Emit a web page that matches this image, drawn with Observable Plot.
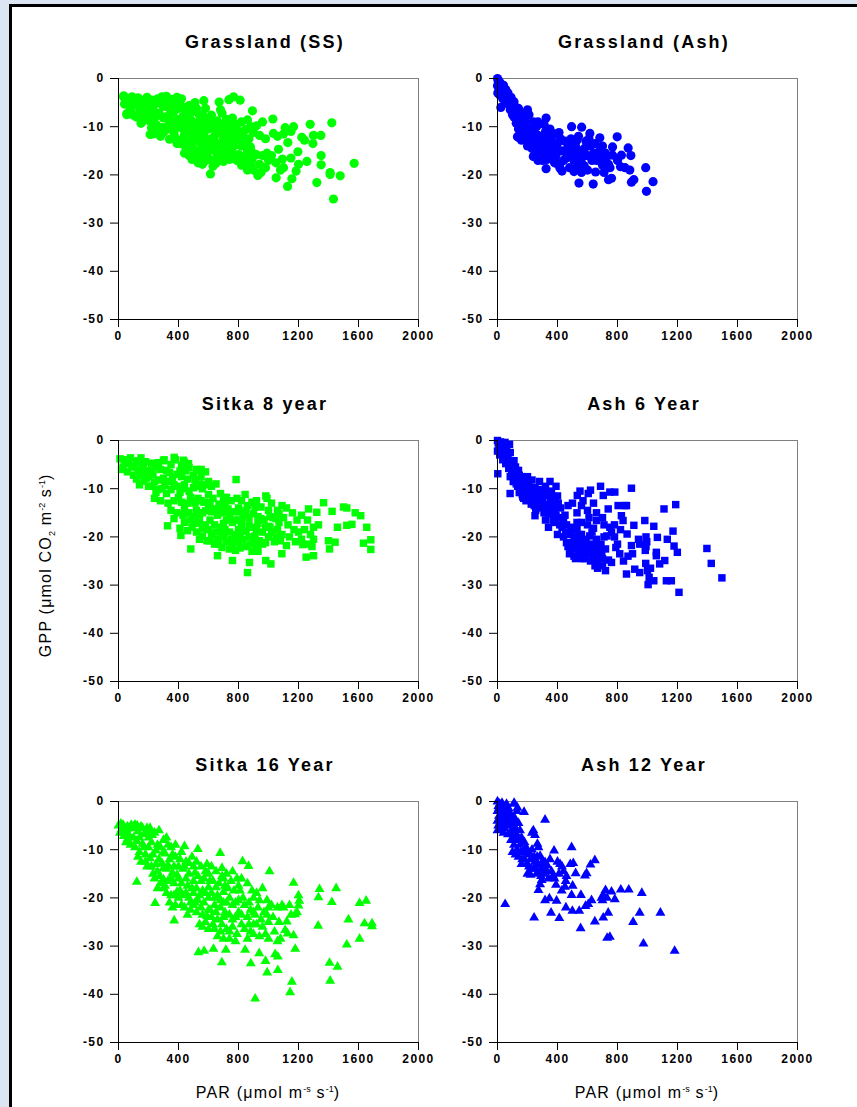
<!DOCTYPE html>
<html><head><meta charset="utf-8">
<script src="https://cdn.jsdelivr.net/npm/d3@7"></script>
<script src="https://cdn.jsdelivr.net/npm/@observablehq/plot@0.6"></script>
<style>
body{margin:0;background:#fff;}
#page{position:relative;width:857px;height:1107px;overflow:hidden;background:#fff;font-family:Arial,"Liberation Sans",sans-serif;}
.bg{position:absolute;background:#dce6f2;}
.bd{position:absolute;background:#000;}
.title{position:absolute;width:300px;text-align:center;font-weight:bold;font-size:18px;line-height:18px;letter-spacing:2.2px;color:#000;white-space:nowrap;}
.axlab{position:absolute;width:300px;text-align:center;font-size:16px;line-height:16px;letter-spacing:1.2px;color:#000;white-space:nowrap;}
.axlab sup,.axlab sub{font-size:9px;letter-spacing:0;}
.panel{position:absolute;}
</style></head><body><div id="page"></div><script>
// ---- data (PAR, GPP) ----
const titles = ["Grassland (SS)", "Grassland (Ash)", "Sitka 8 year", "Ash 6 Year", "Sitka 16 Year", "Ash 12 Year"];
const xTicks = [0, 400, 800, 1200, 1600, 2000];
const yTicks = [0, -10, -20, -30, -40, -50];

const grassSS = [[35,-3.6],[60,-4.2],[90,-3.8],[40,-5.3],[75,-5.8],[55,-7.3],[100,-7.6],[110,-4.4],
[130,-4.0],[160,-4.6],[190,-3.9],[140,-6.2],[175,-6.8],[120,-8.0],[160,-8.9],[200,-5.6],[195,-7.7],[150,-9.3],
[220,-4.5],[260,-4.2],[290,-3.8],[230,-6.5],[270,-7.2],[210,-8.8],[250,-9.5],[290,-10.2],[230,-11.5],[280,-12.0],[300,-5.8],[300,-8.2],
[320,-3.7],[360,-4.3],[390,-3.9],[330,-5.9],[370,-6.8],[310,-8.0],[350,-9.1],[390,-8.5],[320,-10.6],[370,-11.2],[340,-12.6],[390,-13.5],[400,-10.0],[400,-6.2],
[420,-4.2],[440,-6.0],[470,-5.6],[430,-7.9],[480,-8.5],[420,-10.2],[460,-11.0],[500,-10.0],[430,-12.5],[480,-13.1],[450,-14.5],[500,-15.2],[470,-16.0],[500,-6.8],
[520,-6.2],[560,-7.5],[540,-9.0],[590,-8.3],[520,-11.0],[570,-11.8],[540,-13.2],[590,-12.8],[520,-15.0],[560,-15.8],[600,-14.8],[530,-17.5],[580,-17.0],[600,-10.5],
[620,-7.6],[660,-8.8],[690,-7.2],[630,-10.3],[670,-11.0],[700,-9.5],[620,-12.5],[660,-13.5],[700,-12.3],[640,-15.0],[690,-15.6],[610,-16.8],[650,-17.6],[700,-17.2],[680,-6.5],
[720,-8.5],[760,-8.2],[790,-9.5],[730,-10.8],[770,-11.5],[740,-13.0],[780,-13.8],[720,-14.6],[760,-15.5],[800,-15.8],[740,-16.8],[790,-17.0],
[820,-9.0],[860,-8.6],[880,-10.0],[830,-12.0],[870,-12.5],[900,-11.2],[820,-14.0],[860,-15.0],[900,-15.5],[840,-17.3],[880,-18.0],[820,-18.0],
[920,-9.8],[960,-9.0],[940,-11.8],[980,-12.5],[920,-15.8],[960,-16.0],[990,-15.5],[940,-17.8],[980,-18.5],[1000,-17.0],[900,-19.0],[950,-19.5],
[1433,-25.0],[1571,-17.6],[1478,-20.2],[1411,-19.5],[1411,-19.9],[1322,-21.6],[1127,-22.4],[1156,-20.8],[1051,-20.6],[929,-20.1],[1422,-9.2],[1278,-9.5],[1300,-11.8],[1349,-11.8],[1296,-13.5],[1351,-16.0],[1351,-17.9],[1256,-17.2],[1184,-19.2],[1129,-13.3],[1167,-10.0],[1222,-12.2],[1111,-10.2],[1029,-8.4],[1033,-11.4],[1067,-14.7],[1093,-16.7],[1196,-15.2],[893,-6.7],[811,-4.5],[767,-3.8],[736,-4.4],[671,-4.9],[569,-4.6],[613,-19.8],[211,-11.6],[56,-7.5],[33,-3.8],
[1060,-12.0],[1100,-11.5],[1150,-11.0],[1240,-12.8],[1050,-17.5],[1100,-18.5],[1150,-16.5],[1200,-17.8],[1020,-16.0],[1080,-19.0],
[50,-4.6],[80,-6.5],[100,-5.2],[120,-5.2],[150,-7.5],[180,-5.2],[140,-4.8],[210,-5.0],[240,-5.3],[280,-5.2],[250,-7.8],[220,-10.2],[260,-11.0],[300,-11.2],[310,-4.8],[340,-7.5],[380,-5.4],[360,-10.0],[330,-9.8],[380,-12.3],[410,-5.5],[450,-7.2],[410,-8.8],[450,-9.5],[440,-11.6],[490,-11.8],[410,-13.5],[460,-13.6],[490,-14.2],[440,-15.5],[490,-16.8],[510,-5.0],[540,-7.6],[580,-6.2],[510,-9.2],[560,-10.2],[600,-9.3],[550,-11.5],[510,-12.6],[560,-14.3],[600,-13.2],[540,-16.2],[590,-16.0],[560,-17.8],[630,-8.8],[650,-10.0],[690,-10.5],[640,-12.0],[680,-13.8],[620,-14.0],[660,-16.2],[700,-14.5],[630,-18.2],[710,-11.2],[750,-9.5],[780,-10.8],[750,-12.2],[710,-13.5],[760,-14.2],[730,-15.5],[710,-16.2],[770,-16.6],[800,-12.5],[810,-11.0],[850,-10.6],[840,-13.3],[880,-14.2],[810,-16.0],[850,-16.4],[890,-16.8],[860,-19.0]];

const grassAsh = [[0,0],[5,-0.6],[0,-1.5],[10,-2.4],[2,-3.0],[20,-1.0],[30,-2.0],[15,-3.4],[40,-1.4],[45,-3.0],[55,-2.3],[60,-3.8],[35,-4.2],[70,-3.0],[80,-4.6],[65,-5.2],[90,-3.9],[100,-5.5],[85,-6.5],[110,-4.8],[120,-6.8],[100,-7.5],[130,-7.5],[140,-6.2],[150,-8.6],[125,-9.3],[160,-9.6],[140,-10.5],[170,-10.8],[190,-9.0],[200,-6.5],[210,-7.5],[180,-8.0],[180,-12.0],[200,-11.5],[220,-10.5],[230,-12.5],[240,-9.0],[260,-10.0],[250,-13.5],[270,-11.8],[230,-14.5],[280,-14.0],[300,-12.0],[310,-9.5],[320,-11.0],[290,-15.5],[330,-13.5],[350,-10.5],[360,-12.8],[340,-15.0],[370,-14.5],[300,-17.0],[330,-16.8],[380,-11.5],[400,-13.5],[390,-16.0],[420,-12.5],[430,-15.0],[450,-13.0],[440,-17.0],[470,-14.2],[460,-16.5],[490,-12.5],[500,-15.5],[520,-14.0],[480,-18.5],[510,-17.0],[540,-12.0],[550,-15.0],[560,-17.5],[580,-14.5],[600,-16.0],[610,-12.5],[620,-14.0],[640,-15.5],[650,-13.5],[660,-17.0],[680,-15.0],[690,-16.5],[700,-18.0],[720,-17.5],[710,-19.5],[730,-16.2],[750,-18.5],[220,-13.5],[260,-15.8],
[993,-23.4],[1037,-21.4],[988,-18.5],[893,-21.5],[909,-21.0],[889,-16.0],[871,-14.4],[882,-19.0],[798,-12.1],[767,-14.2],[767,-15.9],[760,-20.7],[826,-15.9],[820,-18.3],[638,-21.9],[543,-21.7],[654,-19.4],[510,-19.3],[527,-18.6],[578,-18.1],[324,-18.7],[494,-10.0],[561,-10.1],[616,-11.4],[682,-12.3],[324,-8.2],[417,-18.6],[406,-17.9],[239,-16.2],[22,-6.0],[133,-12.1],[145,-12.3],
[850,-18.5],[800,-17.0],[740,-21.0],[560,-19.5],[600,-19.0],[430,-19.2],[380,-17.5],[270,-17.0],[200,-14.0],[160,-12.8],
[10,-0.5],[25,-2.8],[50,-4.5],[75,-4.0],[95,-6.0],[115,-5.8],[110,-8.0],[135,-8.3],[155,-7.2],[165,-11.8],[190,-10.5],[210,-12.5],[240,-11.2],[255,-14.8],[270,-9.0],[285,-12.8],[305,-14.2],[315,-16.2],[345,-12.0],[355,-14.0],[365,-16.5],[400,-15.0],[410,-11.2],[420,-17.5],[450,-15.2],[475,-16.0],[490,-14.0],[530,-16.0],[530,-12.8],[570,-16.2],[590,-13.0],[630,-17.0],[670,-16.0],[700,-14.0],[720,-15.5],[740,-17.8]];

const sitka8 = [[10,-3.8],[30,-5.5],[50,-4.2],[60,-6.5],[80,-3.6],[90,-5.4],[100,-7.2],[20,-6.0],
[120,-4.5],[150,-3.6],[180,-4.4],[130,-6.3],[160,-5.8],[190,-6.5],[120,-8.0],[170,-8.4],[200,-9.5],[140,-9.2],[200,-7.5],
[220,-4.7],[250,-5.5],[280,-6.0],[230,-7.0],[270,-8.2],[300,-7.8],[220,-9.5],[250,-10.8],[290,-10.0],[240,-12.0],[280,-12.5],[300,-4.2],
[320,-6.2],[350,-5.0],[380,-4.0],[330,-8.5],[360,-7.8],[390,-7.0],[320,-11.0],[350,-10.2],[390,-9.5],[330,-13.0],[370,-12.5],[400,-11.8],[350,-14.5],[390,-15.0],[370,-16.2],
[420,-5.2],[440,-4.5],[470,-5.6],[420,-7.5],[460,-8.0],[500,-7.2],[430,-10.0],[470,-10.5],[500,-9.8],[420,-12.8],[460,-13.0],[500,-12.5],[430,-15.5],[470,-15.0],[500,-15.8],[440,-17.0],[490,-18.0],[410,-18.2],
[520,-6.0],[550,-7.5],[580,-6.5],[520,-9.5],[560,-10.0],[600,-8.5],[530,-12.0],[570,-12.8],[600,-11.2],[520,-14.5],[560,-15.0],[600,-14.2],[540,-17.0],[580,-17.5],[520,-19.0],[560,-19.8],[600,-18.5],[590,-20.8],
[620,-9.5],[650,-9.0],[680,-11.0],[630,-12.0],[670,-13.2],[700,-12.5],[620,-14.8],[660,-15.5],[700,-15.0],[640,-17.5],[680,-18.0],[700,-17.2],[620,-19.5],[660,-20.5],[700,-20.0],[640,-21.5],[690,-22.2],
[720,-11.8],[750,-12.5],[790,-12.0],[730,-14.2],[770,-14.8],[800,-14.0],[720,-16.5],[760,-17.0],[800,-16.5],[740,-19.0],[780,-19.5],[720,-21.0],[760,-21.8],[800,-21.0],[780,-22.8],[800,-18.5],
[820,-12.5],[860,-13.5],[890,-12.8],[830,-15.5],[870,-16.0],[900,-15.2],[820,-18.0],[850,-18.8],[890,-18.0],[830,-20.5],[870,-20.0],[900,-21.0],[850,-22.0],[890,-23.0],
[920,-12.5],[950,-13.8],[990,-12.0],[930,-15.8],[970,-16.5],[1000,-14.5],[920,-18.5],[960,-19.0],[1000,-17.8],[940,-20.8],[980,-21.2],[1000,-20.0],[930,-23.0],
[1020,-13.0],[1060,-14.5],[1090,-13.5],[1030,-16.0],[1070,-17.0],[1100,-16.0],[1020,-19.0],[1060,-18.5],[1090,-19.5],[1040,-21.0],[1080,-20.8],
[1120,-14.0],[1160,-15.0],[1190,-16.5],[1130,-17.5],[1170,-18.5],[1200,-19.0],[1140,-20.0],[1180,-21.0],[1120,-21.8],
[1220,-15.5],[1260,-16.5],[1240,-18.5],[1280,-19.5],[1220,-20.5],[1260,-21.5],[1300,-20.5],[1290,-22.0],
[1682,-22.6],[1682,-20.6],[1633,-21.3],[1655,-18.0],[1615,-15.6],[1578,-15.0],[1522,-14.0],[1500,-13.8],[1556,-17.4],[1522,-17.6],[1460,-18.0],[1400,-20.8],[1407,-22.5],[1444,-21.1],[1367,-12.9],[1424,-14.7],[1322,-14.9],[1300,-18.0],[1333,-17.5],[1267,-14.2],[1300,-23.9],[1251,-24.2],[1229,-21.6],[1089,-23.5],[1016,-25.6],[982,-24.9],[860,-27.4],[873,-25.3],[760,-24.9],[660,-23.9],[482,-22.5],[416,-19.7],[327,-17.7],[784,-8.1],[844,-11.2],[982,-11.5],[551,-6.0],[433,-4.1],[467,-4.8],[304,-4.0],[371,-3.5],
[40,-4.0],[70,-4.8],[110,-5.5],[130,-4.2],[165,-4.8],[150,-7.2],[185,-7.8],[210,-6.2],[240,-8.6],[265,-4.6],[260,-10.2],[310,-9.3],[340,-6.6],[370,-9.2],[410,-6.3],[450,-6.3],[440,-9.2],[480,-11.8],[410,-10.8],[440,-14.2],[480,-16.5],[460,-18.7],[510,-8.2],[540,-9.0],[580,-9.2],[550,-12.5],[510,-13.0],[580,-14.6],[540,-15.5],[510,-17.2],[560,-18.2],[540,-20.5],[610,-12.8],[640,-14.2],[680,-14.6],[610,-16.5],[650,-19.0],[690,-19.2],[610,-20.8],[670,-21.5],[710,-13.5],[740,-15.5],[780,-16.5],[710,-18.5],[750,-20.5],[790,-20.2],[740,-22.5],[810,-14.8],[850,-14.5],[820,-16.8],[870,-17.5],[810,-19.5],[880,-21.5],[810,-22.3],[910,-13.8],[950,-16.2],[930,-17.2],[980,-18.0],[910,-19.8],[960,-21.5],[920,-22.0],[1010,-15.8],[1050,-16.2],[1010,-18.0],[1050,-20.0],[1070,-15.2]];

const ash6 = [[0,0],[10,-1.2],[0,-2.2],[20,-0.3],[30,-1.8],[15,-3.0],[50,-0.4],[45,-2.6],[60,-1.5],[35,-4.0],[70,-3.2],[80,-0.8],[55,-4.8],[90,-4.5],[75,-5.8],[100,-6.0],[110,-4.2],[95,-7.2],[120,-5.5],[130,-7.0],[115,-8.5],[140,-6.2],[150,-8.0],[135,-9.5],[160,-7.5],[170,-9.2],[155,-10.5],[180,-8.0],[190,-10.0],[175,-12.0],[200,-7.5],[210,-9.0],[200,-11.5],[220,-10.5],[230,-8.2],[240,-12.0],[225,-13.2],[250,-9.8],[260,-11.0],[270,-13.0],[255,-14.5],[280,-8.5],[290,-10.2],[300,-12.0],[285,-14.0],[310,-15.0],[320,-9.5],[330,-11.5],[340,-13.5],[320,-16.5],[350,-8.5],[360,-10.8],[370,-12.8],[350,-15.2],[380,-14.5],[340,-18.0],[390,-9.5],[400,-11.5],[395,-13.5],[380,-17.0],[410,-16.0],[420,-14.0],[400,-19.5],[430,-18.0],[450,-15.5],[440,-20.0],[460,-17.5],[470,-13.5],
[480,-19.5],[500,-18.0],[470,-22.0],[490,-21.2],[510,-20.0],[520,-22.5],[480,-23.5],[530,-18.5],[540,-21.0],[550,-23.5],[520,-24.5],[560,-19.5],[570,-22.0],[580,-24.5],[590,-20.5],[600,-23.0],[610,-21.5],[620,-25.0],[630,-19.0],[640,-22.5],[650,-24.0],[660,-20.5],[670,-23.0],[690,-21.5],[700,-24.5],[720,-22.5],[710,-20.0],[740,-24.8],[730,-19.8],[560,-17.0],[600,-17.5],[640,-18.2],
[532,-11.4],[620,-10.3],[605,-11.0],[687,-9.5],[705,-11.4],[749,-10.7],[782,-10.7],[804,-13.5],[849,-13.5],[860,-13.5],[826,-15.6],[837,-16.6],[738,-14.2],[660,-16.6],[749,-18.0],[789,-22.2],[815,-23.5],[760,-25.3],[667,-26.5],[864,-19.4],[893,-21.8],[948,-21.5],[909,-17.6],[893,-9.9],[860,-27.7],[915,-26.7],[948,-27.4],[988,-25.5],[982,-16.6],[990,-20.0],[995,-21.0],[990,-22.0],[985,-22.8],[1042,-17.8],[1066,-20.1],[1059,-23.2],[1059,-23.9],[1115,-24.9],[1081,-25.6],[1042,-29.1],[1004,-29.9],[1011,-28.4],[1126,-29.1],[1159,-29.1],[1110,-14.2],[1132,-20.5],[1170,-18.8],[1188,-13.3],[1177,-21.9],[1199,-23.2],[1210,-31.5],[1396,-22.4],[1425,-25.5],[1496,-28.5],[2,-6.9],[84,-11.0],[168,-11.7],[250,-15.6],
[780,-20.0],[800,-21.5],[560,-13.5],[600,-14.5],[640,-13.0],[660,-15.0],[700,-16.0],[710,-17.5],[780,-17.5],[820,-18.5],[760,-19.0],[650,-26.0],[700,-26.0],[720,-27.0],[840,-25.0],[870,-24.0],[900,-23.5],[940,-20.5],[1000,-27.0],[1020,-26.5],[550,-10.5],[570,-12.5],[500,-13.0],[530,-15.0],
[5,-0.5],[25,-1.0],[40,-1.0],[25,-2.5],[50,-3.5],[65,-2.5],[85,-2.5],[80,-5.0],[105,-4.8],[85,-7.5],[125,-6.5],[105,-8.5],[145,-7.2],[125,-9.0],[165,-8.8],[145,-10.8],[185,-9.2],[165,-11.2],[205,-10.2],[190,-12.5],[215,-11.8],[235,-10.0],[245,-13.5],[270,-10.2],[275,-12.0],[295,-13.5],[305,-11.0],[315,-13.2],[335,-15.0],[345,-10.5],[355,-12.0],[365,-14.0],[370,-16.5],[385,-12.0],[390,-15.5],[405,-13.0],[415,-17.5],[440,-16.5],[455,-19.0],[460,-21.2],[490,-18.8],[500,-22.5],[510,-24.0],[530,-21.5],[545,-19.5],[555,-22.8],[565,-24.5],[575,-20.8],[590,-23.5],[605,-22.2],[615,-19.8],[625,-23.5],[640,-24.8],[655,-21.5],[665,-25.0],[680,-22.2],[695,-23.5],[530,-17.0],[610,-16.0]];

const sitka16 = [[0,-5.0],[10,-6.5],[30,-4.8],[40,-6.2],[60,-5.2],[70,-7.0],[90,-5.6],[100,-7.5],[50,-8.5],[20,-5.8],[80,-9.0],
[110,-4.8],[130,-6.2],[150,-5.2],[170,-6.8],[190,-5.5],[120,-8.2],[160,-8.8],[200,-7.5],[140,-10.5],[180,-11.0],[200,-9.5],[150,-12.5],[190,-13.5],[130,-11.5],
[210,-5.5],[240,-6.5],[270,-6.0],[220,-8.5],[260,-9.0],[300,-8.0],[230,-11.0],[270,-12.0],[300,-10.5],[220,-13.5],[260,-14.5],[300,-13.8],[240,-16.0],[280,-17.0],[300,-16.2],[260,-18.0],
[320,-7.5],[350,-9.5],[380,-9.0],[310,-10.8],[340,-12.0],[380,-11.5],[320,-14.0],[360,-14.8],[400,-13.5],[330,-16.5],[370,-17.0],[400,-16.0],[320,-19.0],[350,-19.5],[390,-18.8],[340,-21.0],[380,-21.5],[400,-20.0],
[420,-10.5],[450,-12.5],[490,-11.5],[430,-14.0],[470,-15.0],[500,-13.5],[420,-17.0],[460,-17.5],[500,-16.5],[430,-19.5],[470,-20.0],[500,-19.0],[440,-22.0],[480,-22.5],[500,-21.5],[460,-23.5],
[520,-12.5],[550,-13.5],[590,-13.0],[530,-15.5],[570,-16.0],[600,-15.0],[520,-18.0],[560,-18.5],[600,-17.8],[530,-20.5],[570,-21.0],[600,-20.0],[520,-23.0],[560,-23.5],[600,-22.5],[540,-25.5],[580,-25.0],[600,-26.5],
[620,-13.5],[650,-14.5],[690,-13.8],[630,-16.5],[670,-17.0],[700,-16.0],[620,-19.0],[660,-19.5],[700,-18.8],[640,-21.5],[680,-22.0],[700,-21.0],[620,-24.0],[660,-24.5],[700,-24.0],[640,-26.5],[680,-27.0],[700,-28.5],[660,-28.0],
[720,-15.0],[760,-14.5],[790,-16.0],[730,-18.0],[770,-18.5],[800,-17.5],[720,-21.0],[760,-21.5],[800,-20.5],[740,-23.5],[780,-24.0],[800,-23.0],[720,-26.5],[760,-26.0],[790,-27.5],[740,-28.5],[780,-29.0],
[820,-16.0],[860,-17.0],[890,-18.5],[830,-20.0],[870,-21.0],[900,-20.0],[820,-23.5],[860,-24.0],[900,-23.0],[840,-26.5],[880,-27.0],[900,-25.5],[860,-28.5],
[920,-19.0],[960,-18.0],[990,-20.5],[930,-22.0],[970,-23.0],[1000,-22.0],[920,-25.5],[960,-26.0],[1000,-25.0],[940,-28.0],[980,-27.5],[1000,-28.5],
[1020,-21.5],[1060,-22.0],[1090,-21.5],[1030,-24.0],[1070,-25.0],[1040,-27.0],[1080,-28.5],[1060,-29.0],[1100,-22.0],[1140,-21.5],[1150,-23.5],
[911,-40.9],[1144,-39.6],[1156,-37.4],[1411,-37.2],[1407,-33.5],[1460,-34.3],[1522,-29.7],[1607,-28.5],[1533,-24.5],[1690,-25.3],[1690,-25.9],[1640,-25.3],[1607,-21.1],[1651,-20.6],[1422,-20.9],[1451,-18.0],[1340,-18.2],[1333,-19.9],[1331,-25.8],[1167,-16.9],[1200,-19.5],[1205,-20.6],[1200,-21.6],[1178,-23.4],[1190,-23.0],[1167,-27.8],[1178,-30.6],[1122,-24.9],[1111,-26.7],[1127,-27.4],[1062,-32.2],[1044,-31.7],[1062,-35.0],[991,-35.5],[980,-33.1],[938,-31.5],[882,-33.6],[844,-30.8],[689,-33.4],[533,-31.3],[571,-31.0],[633,-30.6],[716,-30.8],[1007,-14.5],[827,-12.4],[867,-13.4],[678,-10.7],[529,-9.9],[440,-9.3],[122,-16.7],[371,-24.7],[244,-21.1],
[15,-4.6],[35,-7.2],[55,-5.8],[85,-4.9],[60,-7.8],[100,-5.2],[110,-9.5],[140,-7.5],[170,-9.5],[125,-5.0],[160,-5.5],[200,-6.2],[180,-12.5],[210,-11.8],[225,-7.0],[250,-10.2],[280,-9.5],[250,-13.0],[290,-12.8],[230,-15.0],[275,-15.5],[300,-18.0],[330,-9.0],[360,-11.0],[330,-13.2],[370,-13.5],[350,-16.0],[390,-15.2],[310,-17.5],[370,-19.5],[360,-22.0],[410,-12.0],[440,-13.5],[470,-12.8],[450,-16.0],[490,-18.0],[410,-18.5],[450,-19.0],[480,-21.0],[420,-21.5],[510,-14.8],[550,-16.5],[580,-14.5],[540,-19.5],[580,-19.0],[510,-21.0],[550,-22.0],[590,-23.8],[560,-26.0],[610,-16.5],[650,-17.8],[690,-15.5],[640,-20.0],[680,-20.5],[610,-22.5],[650,-23.0],[690,-25.5],[630,-25.5],[710,-17.5],[750,-16.5],[740,-20.0],[780,-21.0],[710,-23.0],[760,-24.5],[740,-27.0],[810,-18.5],[840,-21.5],[880,-22.5],[820,-25.5],[870,-25.5],[900,-27.5],[940,-20.5],[910,-23.5],[950,-24.5],[990,-23.5]];

const ash12 = [[0,0],[5,-1.0],[0,-2.0],[10,-3.0],[0,-4.0],[5,-5.0],[0,-6.0],[15,-0.5],[20,-1.8],[25,-3.2],[15,-4.5],[20,-5.8],[30,-0.3],[35,-2.2],[40,-4.0],[45,-1.2],[50,-3.0],[55,-5.0],[60,-0.5],[60,-2.0],[70,-3.5],[40,-6.5],[75,-1.5],[80,-5.0],[90,-2.8],[95,-4.2],[100,-6.0],[110,-0.5],[115,-3.5],[120,-5.5],[130,-2.0],[130,-7.0],[140,-4.5],[150,-6.0],[70,-6.8],
[90,-8.0],[110,-9.0],[100,-10.5],[120,-8.0],[130,-10.0],[140,-11.5],[150,-9.0],[160,-7.5],[170,-10.5],[180,-12.0],[160,-13.0],[190,-9.5],[200,-11.0],[210,-13.5],[200,-15.0],[220,-12.0],[230,-10.0],[240,-14.0],[250,-12.5],[260,-15.0],[270,-13.0],[280,-14.5],[230,-6.5],[250,-7.0],[180,-8.5],[220,-15.2],[290,-15.5],[300,-13.8],[310,-15.0],[330,-14.5],[340,-16.0],[300,-12.5],
[1181,-31.0],[1086,-23.1],[973,-29.5],[948,-23.1],[962,-19.0],[904,-25.0],[875,-18.3],[822,-18.3],[760,-18.7],[782,-20.3],[720,-18.4],[705,-19.4],[693,-20.0],[738,-23.1],[705,-24.1],[749,-28.1],[731,-28.3],[649,-24.9],[554,-26.3],[587,-21.7],[605,-21.3],[627,-20.5],[649,-12.2],[620,-13.1],[594,-14.9],[583,-15.4],[521,-14.9],[494,-9.5],[556,-19.4],[494,-19.4],[501,-17.5],[545,-22.7],[499,-22.7],[456,-22.0],[412,-24.2],[357,-23.1],[346,-20.1],[317,-20.5],[394,-20.6],[390,-17.3],[428,-18.5],[450,-17.7],[455,-16.5],[505,-12.8],[485,-13.0],[377,-10.2],[417,-13.0],[317,-3.8],[244,-24.1],[51,-21.3],[111,-0.3],[133,-1.3],[177,-2.2],[239,-6.0],[266,-8.8],[273,-9.5],[284,-11.3],[317,-12.6],[332,-13.3],[295,-16.3],[284,-17.2],[273,-18.4],[430,-13.5],[400,-12.5],[360,-14.5],[380,-16.0],[730,-20.0],[700,-20.5],
[350,-12.0],[370,-15.5],[410,-15.0],[440,-14.5],[460,-15.5],
[10,-1.5],[30,-1.5],[25,-4.5],[45,-5.5],[65,-4.5],[85,-4.0],[85,-6.5],[105,-4.5],[110,-7.5],[125,-4.2],[145,-8.0],[120,-11.0],[155,-10.5],[165,-12.0],[185,-10.5],[195,-13.0],[215,-10.8],[225,-14.0],[245,-11.5],[255,-13.8],[265,-11.5],[290,-13.0]];

const datasets = [grassSS, grassAsh, sitka8, ash6, sitka16, ash12];
const colors = ["#00ff00", "#0000ff", "#00ff00", "#0000ff", "#00ff00", "#0000ff"];
const symbols = ["circle", "circle", "square", "square", "triangle", "triangle"];

// ---- layout ----
const page = document.getElementById("page");
function box(cls, l, t, w, h){const d=document.createElement("div");d.className=cls;Object.assign(d.style,{left:l+"px",top:t+"px",width:w+"px",height:h+"px"});page.appendChild(d);}
box("bg", 0, 0, 857, 4);
box("bg", 0, 0, 9, 1107);
box("bd", 9, 4, 848, 3);
box("bd", 9, 4, 3, 1103);

const frameLeft = [118, 497];
const frameTop = [78, 440, 801];
const FW = 300, FH = 241;
const mL = 50, mR = 20, mT = 10, mB = 32;
const radii = {circle: 4.6, square: 4.2, triangle: 3.7};

datasets.forEach((data, i) => {
  const col = i % 2, row = Math.floor(i / 2);
  const fl = frameLeft[col], ft = frameTop[row];
  const chart = Plot.plot({
    width: FW + mL + mR, height: FH + mT + mB,
    marginLeft: mL, marginRight: mR, marginTop: mT, marginBottom: mB,
    x: {domain: [0, 2000]},
    y: {domain: [-50, 0]},
    style: {fontFamily: "Arial, 'Liberation Sans', sans-serif", fontSize: "12px", fontWeight: "bold", color: "#000", background: "transparent", overflow: "visible"},
    marks: [
      Plot.ruleY([0], {stroke: "#808080", strokeWidth: 1}),
      Plot.ruleX([2000], {stroke: "#808080", strokeWidth: 1}),
      Plot.dot(data, {x: d => d[0], y: d => d[1], fill: colors[i], stroke: "none", symbol: symbols[i], r: radii[symbols[i]]}),
      Plot.ruleX([0], {stroke: "#000", strokeWidth: 1}),
      Plot.ruleY([-50], {stroke: "#000", strokeWidth: 1}),
      Plot.axisX({ticks: xTicks, tickSize: 8, tickPadding: 4, tickFormat: d => String(d), label: null, stroke: "#000"}),
      Plot.axisY({ticks: yTicks, tickSize: 8, tickPadding: 6, tickFormat: d => String(d), label: null, stroke: "#000"})
    ]
  });
  chart.classList.add("panel");
  chart.style.left = (fl - mL) + "px";
  chart.style.top = (ft - mT) + "px";
  chart.style.position = "absolute";
  chart.style.letterSpacing = "1.4px";
  page.appendChild(chart);

  const t = document.createElement("div");
  t.className = "title";
  t.textContent = titles[i];
  t.style.left = (fl - 3) + "px";
  t.style.top = (ft - 45) + "px";
  page.appendChild(t);
});

// axis titles
const xl = ["PAR (μmol m<sup>-s</sup> s<sup>-1</sup>)"];
frameLeft.forEach(fl => {
  const d = document.createElement("div");
  d.className = "axlab";
  d.innerHTML = xl[0];
  d.style.left = fl + "px";
  d.style.top = "1081px";
  page.appendChild(d);
});
const yl = document.createElement("div");
yl.className = "axlab";
yl.innerHTML = "GPP (μmol CO<sub>2</sub> m<sup>-2</sup> s<sup>-1</sup>)";
yl.style.left = (47 - 150) + "px";
yl.style.top = (560 - 8) + "px";
yl.style.transform = "rotate(-90deg)";
page.appendChild(yl);
</script></body></html>
